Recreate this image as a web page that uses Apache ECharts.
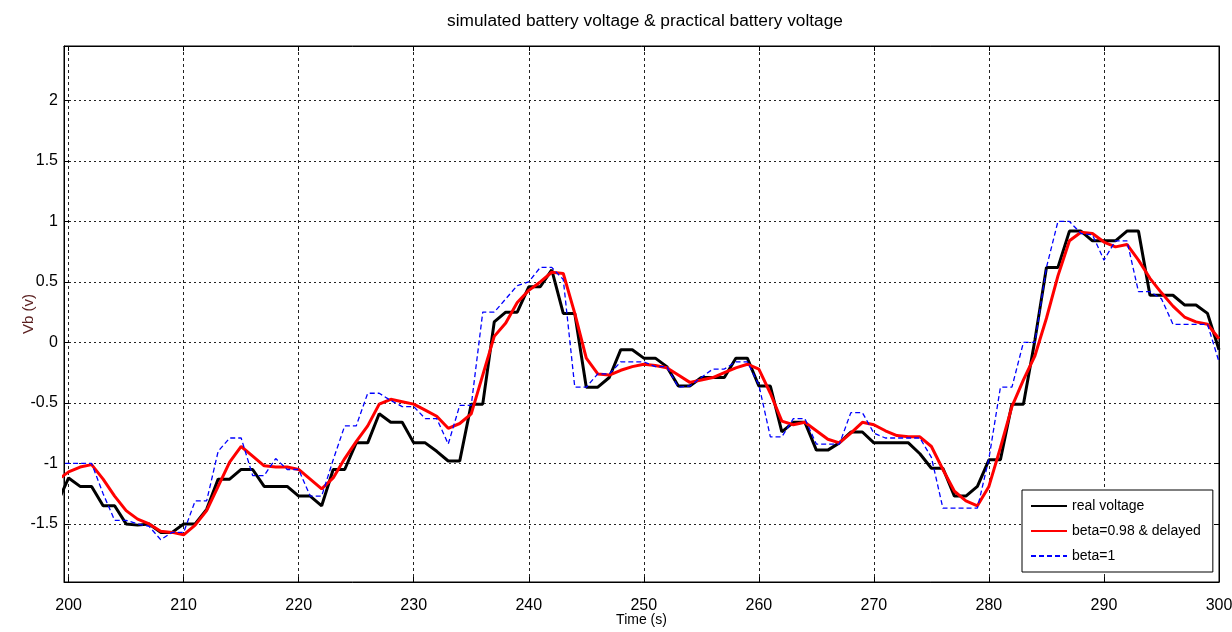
<!DOCTYPE html>
<html>
<head>
<meta charset="utf-8">
<script src="https://cdn.jsdelivr.net/npm/echarts@6/dist/echarts.min.js"></script>
<style>
html,body{margin:0;padding:0;background:#fff;}
#chart{width:1232px;height:632px;}
</style>
</head>
<body>
<div id="chart"></div>
<script>
const timeSec = [199,200,201,202,203,204,205,206,207,208,209,210,211,212,213,214,215,216,217,218,219,220,221,222,223,224,225,226,227,228,229,230,231,232,233,234,235,236,237,238,239,240,241,242,243,244,245,246,247,248,249,250,251,252,253,254,255,256,257,258,259,260,261,262,263,264,265,266,267,268,269,270,271,272,273,274,275,276,277,278,279,280,281,282,283,284,285,286,287,288,289,290,291,292,293,294,295,296,297,298,299,300];

const realVoltage = [-1.33,-1.12,-1.19,-1.19,-1.35,-1.35,-1.50,-1.51,-1.50,-1.57,-1.57,-1.50,-1.50,-1.38,-1.13,-1.13,-1.05,-1.05,-1.19,-1.19,-1.19,-1.27,-1.27,-1.35,-1.05,-1.05,-0.83,-0.83,-0.59,-0.66,-0.66,-0.83,-0.83,-0.90,-0.98,-0.98,-0.51,-0.51,0.17,0.25,0.25,0.46,0.46,0.60,0.24,0.24,-0.37,-0.37,-0.29,-0.06,-0.06,-0.13,-0.13,-0.20,-0.36,-0.36,-0.29,-0.29,-0.29,-0.13,-0.13,-0.36,-0.36,-0.74,-0.66,-0.66,-0.89,-0.89,-0.83,-0.74,-0.74,-0.83,-0.83,-0.83,-0.83,-0.92,-1.04,-1.04,-1.27,-1.27,-1.19,-0.97,-0.97,-0.51,-0.51,0.02,0.62,0.62,0.92,0.92,0.84,0.84,0.84,0.92,0.92,0.39,0.39,0.39,0.31,0.31,0.24,-0.06];

const beta098Delayed = [-1.14,-1.07,-1.03,-1.01,-1.13,-1.27,-1.39,-1.46,-1.50,-1.56,-1.57,-1.59,-1.51,-1.39,-1.19,-0.99,-0.86,-0.94,-1.02,-1.03,-1.03,-1.05,-1.13,-1.21,-1.12,-0.96,-0.82,-0.69,-0.51,-0.47,-0.49,-0.51,-0.56,-0.61,-0.71,-0.67,-0.59,-0.27,0.05,0.16,0.33,0.43,0.50,0.58,0.57,0.24,-0.13,-0.26,-0.27,-0.23,-0.20,-0.18,-0.19,-0.21,-0.27,-0.33,-0.31,-0.29,-0.25,-0.21,-0.18,-0.22,-0.42,-0.65,-0.68,-0.66,-0.73,-0.80,-0.83,-0.75,-0.66,-0.68,-0.73,-0.77,-0.78,-0.78,-0.86,-1.05,-1.23,-1.31,-1.35,-1.19,-0.87,-0.53,-0.31,-0.11,0.20,0.55,0.84,0.91,0.90,0.83,0.79,0.81,0.68,0.53,0.41,0.30,0.21,0.17,0.15,0.03];

const beta1 = [-1.00,-1.00,-1.00,-1.00,-1.25,-1.47,-1.47,-1.50,-1.52,-1.63,-1.57,-1.57,-1.31,-1.31,-0.90,-0.79,-0.79,-1.10,-1.10,-0.96,-1.05,-1.05,-1.27,-1.27,-0.97,-0.69,-0.69,-0.42,-0.42,-0.48,-0.53,-0.53,-0.63,-0.63,-0.84,-0.52,-0.52,0.25,0.25,0.36,0.47,0.50,0.62,0.62,0.52,-0.37,-0.37,-0.26,-0.26,-0.16,-0.16,-0.16,-0.20,-0.20,-0.37,-0.36,-0.29,-0.22,-0.22,-0.16,-0.16,-0.35,-0.78,-0.78,-0.63,-0.63,-0.84,-0.84,-0.84,-0.58,-0.58,-0.75,-0.79,-0.79,-0.79,-0.79,-0.95,-1.37,-1.37,-1.37,-1.37,-0.96,-0.37,-0.37,0.00,0.00,0.62,1.00,1.00,0.90,0.89,0.68,0.84,0.84,0.42,0.42,0.36,0.15,0.15,0.15,0.15,-0.16];

const seriesNames = ['real voltage', 'beta=0.98 & delayed', 'beta=1'];
const titleText = 'simulated battery voltage & practical battery voltage';
const xName = 'Time (s)';
const yName = 'Vb (v)';

function pairs(vals){ return timeSec.map((t,i)=>[t, vals[i]]); }

const FONT = 'Liberation Sans, Arial, sans-serif';
const chart = echarts.init(document.getElementById('chart'), null, {renderer:'canvas'});

const xMin = 199.6, xMax = 300, yMin = -1.98, yMax = 2.45;

chart.setOption({
  animation: false,
  backgroundColor: '#fff',
  title: {
    text: titleText, left: 640, top: 8, textAlign: 'center',
    textStyle: {fontFamily: FONT, fontSize: 17.3, fontWeight: 'normal', color: '#000'}
  },
  legend: {
    orient: 'vertical', left: 1022, top: 490,
    width: 190,
    padding: [9, 12, 9, 8],
    itemGap: 11,
    itemWidth: 36, itemHeight: 14,
    borderColor: '#000', borderWidth: 1, backgroundColor: '#fff',
    itemStyle: {opacity: 0},
    textStyle: {fontFamily: FONT, fontSize: 14, color: '#000'},
    data: seriesNames
  },
  grid: {
    left: 64, right: 13, top: 46, bottom: 50,
    containLabel: false, outerBoundsMode: 'none',
    show: true, borderColor: '#000', borderWidth: 1, backgroundColor: '#fff'
  },
  xAxis: [{
    type: 'value', min: xMin, max: xMax, minInterval: 10, maxInterval: 10,
    name: xName, nameLocation: 'middle', nameGap: 31, nameMoveOverlap: false,
    nameTextStyle: {fontFamily: FONT, fontSize: 14, color: '#000'},
    axisLine: {show: true, onZero: false, lineStyle: {color: '#000', width: 1}},
    axisTick: {show: true, inside: true, length: 5, lineStyle: {color: '#000'}},
    axisLabel: {fontFamily: FONT, fontSize: 16, color: '#000', margin: 16,
      showMinLabel: false,
      formatter: v => (Math.abs(v/10 - Math.round(v/10)) < 1e-6 ? String(Math.round(v)) : '')},
    splitLine: {show: true, lineStyle: {color: '#222', width: 1, type: [3, 3]}}
  },{
    type: 'value', min: xMin, max: xMax, minInterval: 10, maxInterval: 10, position: 'top',
    axisLine: {show: true, onZero: false, lineStyle: {color: '#000'}},
    axisTick: {show: true, inside: true, length: 5, lineStyle: {color: '#000'}},
    axisLabel: {show: false}, splitLine: {show: false}
  }],
  yAxis: [{
    type: 'value', min: yMin, max: yMax, minInterval: 0.5, maxInterval: 0.5,
    name: yName, nameLocation: 'middle', nameGap: 28, nameRotate: 90, nameMoveOverlap: false,
    nameTextStyle: {fontFamily: FONT, fontSize: 15, color: '#5a1f1f'},
    axisLine: {show: true, onZero: false, lineStyle: {color: '#000', width: 1}},
    axisTick: {show: true, inside: true, length: 5, lineStyle: {color: '#000'}},
    axisLabel: {fontFamily: FONT, fontSize: 16, color: '#000', margin: 6,
      showMinLabel: false, showMaxLabel: false,
      formatter: v => (Math.abs(v*2 - Math.round(v*2)) < 1e-6 ? String(Math.round(v*2)/2) : '')},
    splitLine: {show: true, lineStyle: {color: '#222', width: 1, type: [2, 3]}}
  },{
    type: 'value', min: yMin, max: yMax, minInterval: 0.5, maxInterval: 0.5, position: 'right',
    axisLine: {show: true, onZero: false, lineStyle: {color: '#000'}},
    axisTick: {show: true, inside: true, length: 5, lineStyle: {color: '#000'}},
    axisLabel: {show: false}, splitLine: {show: false}
  }],
  series: [
    {name: seriesNames[0], type: 'line', data: pairs(realVoltage), symbol: 'none', clip: true,
     lineStyle: {color: '#000', width: 3}, itemStyle: {color: '#000'}, z: 3},
    {name: seriesNames[1], type: 'line', data: pairs(beta098Delayed), symbol: 'none', clip: true,
     lineStyle: {color: '#ff0000', width: 3}, itemStyle: {color: '#ff0000'}, z: 4},
    {name: seriesNames[2], type: 'line', data: pairs(beta1), symbol: 'none', clip: true,
     lineStyle: {color: '#0000ff', width: 1.3, type: [5, 3]}, itemStyle: {color: '#0000ff'}, z: 5}
  ]
});
</script>
</body>
</html>
